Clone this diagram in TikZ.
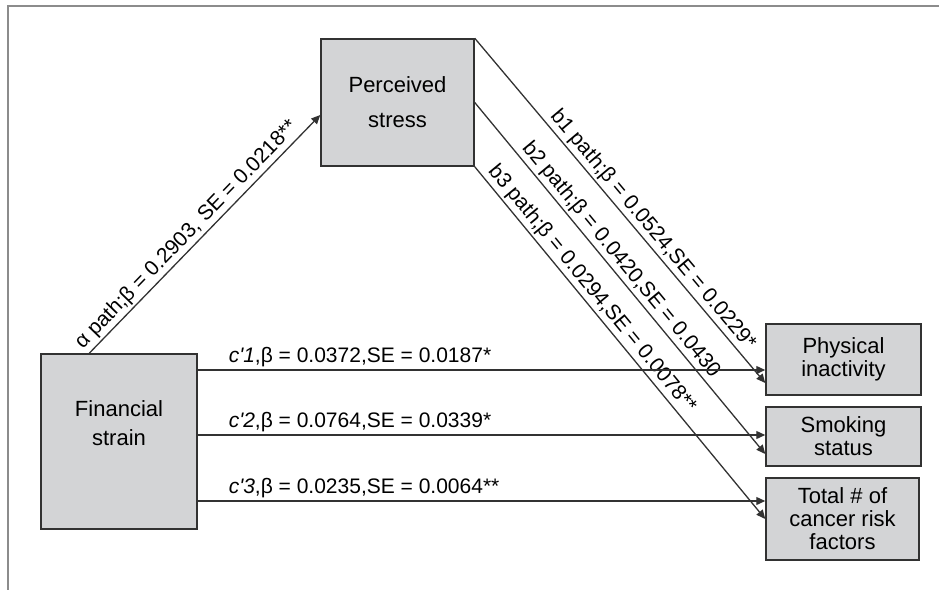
\documentclass[tikz,border=0pt]{standalone}
\usepackage{fontspec}
\setmainfont{Liberation Sans}
\usetikzlibrary{arrows.meta,calc}
\definecolor{boxgray}{RGB}{211,212,214}
\definecolor{linegray}{RGB}{50,50,50}
\definecolor{framegray}{RGB}{140,140,140}
\tikzset{
	var/.style={draw=linegray, line width=0.75pt, fill=boxgray, align=center, inner sep=0pt},
	path arrow/.style={draw=linegray, line width=0.65pt, -{Triangle[length=4.5pt,width=4pt]}},
	coef/.style={font=\fontsize{10.5}{12}\selectfont, inner sep=1pt}
}
\newcommand\cprime[1]{\textit{c\textquotesingle#1}}

\begin{document}
\begin{tikzpicture}[x=0.5pt,y=-0.5pt]
		\useasboundingbox (0,0) rectangle (939,590);
		\draw[framegray, line width=1.25pt] (8,590) -- (8,6) -- (939,6);

		\node[var, minimum width=76.5pt, minimum height=63.5pt, font=\fontsize{11}{17.5}\selectfont] (stress) at (397.5,102.5) {Perceived\\stress};
		\node[var, minimum width=78pt, minimum height=87.5pt, font=\fontsize{11}{14.5}\selectfont] (strain) at (119,441.5) {Financial\\strain\\[4pt]};
		\node[var, minimum width=77.5pt, minimum height=35.5pt, font=\fontsize{11}{11.5}\selectfont] (inact) at (843.5,359.5) {Physical\\inactivity};
		\node[var, minimum width=77.5pt, minimum height=29.5pt, font=\fontsize{11}{11.5}\selectfont] (smoke) at (843.5,436.5) {Smoking\\status};
		\node[var, minimum width=76.5pt, minimum height=41pt, font=\fontsize{11}{11.5}\selectfont] (total) at (842.5,519) {Total \# of\\cancer risk\\factors};

		% a path
		\draw[path arrow] ($(strain.north west)+(49,0)$) -- ($(stress.west)+(0,12.5)$)
			node[coef, sloped, above, pos=0.46] {α path;β = 0.2903, SE = 0.0218**};

		% b paths
		\draw[path arrow] (stress.north east) -- ($(inact.west)+(0,23.5)$)
			node[coef, sloped, above, pos=0.58] {b1 path;β = 0.0524,SE = 0.0229*};
		\draw[path arrow] (stress.east) -- ($(smoke.west)+(0,17.5)$)
			node[coef, sloped, above, pos=0.47] {b2 path;β = 0.0420,SE = 0.0430};
		\draw[path arrow] (stress.south east) -- (total.west)
			node[coef, sloped, above, pos=0.37] {b3 path;β = 0.0294,SE = 0.0078**};

		% c' paths
		\coordinate (inact-c) at ($(inact.west)+(0,10.5)$);
		\coordinate (smoke-c) at ($(smoke.west)+(0,-1.5)$);
		\coordinate (total-c) at ($(total.west)+(0,-18)$);
		\draw[path arrow] (strain.east |- inact-c) -- (inact-c)
			node[coef, pos=0.05, anchor=south west] {\cprime{1},β = 0.0372,SE = 0.0187*};
		\draw[path arrow] (strain.east |- smoke-c) -- (smoke-c)
			node[coef, pos=0.05, anchor=south west] {\cprime{2},β = 0.0764,SE = 0.0339*};
		\draw[path arrow] (strain.east |- total-c) -- (total-c)
			node[coef, pos=0.05, anchor=south west] {\cprime{3},β = 0.0235,SE = 0.0064**};
	\end{tikzpicture}
\end{document}
